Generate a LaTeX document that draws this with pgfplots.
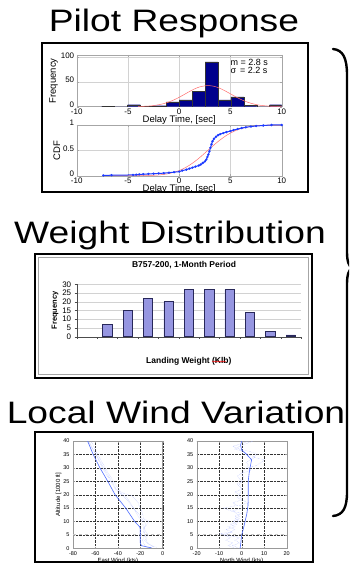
\documentclass[border=0pt]{standalone}
\usepackage{fontspec}
\setmainfont{Liberation Sans}
\usepackage{graphicx}
\usepackage{pgfplots}
\pgfplotsset{compat=1.18}
\usetikzlibrary{decorations.pathmorphing}

\definecolor{histnavy}{RGB}{0,0,140}
\definecolor{fitred}{RGB}{255,110,110}
\definecolor{cdfblue}{RGB}{30,60,255}
\definecolor{excelbar}{RGB}{150,150,225}
\definecolor{excelbarline}{RGB}{40,40,90}
\definecolor{windblue}{RGB}{80,110,255}
\definecolor{windlight}{RGB}{165,180,255}

\newcommand\bigtitle[1]{\fontsize{31}{34}\selectfont\scalebox{1.2}[1]{#1}}

\pgfplotsset{
  matlab/.style={
    scale only axis, anchor=south west,
    tick align=inside, major tick length=2pt,
    tick label style={font=\fontsize{8}{9}\selectfont},
    label style={font=\fontsize{9.5}{10}\selectfont},
    /pgf/number format/assume math mode=true,
    axis line style={gray!70}, tick style={gray!70},
    grid=major, grid style={gray!35, line width=0.4pt},
    yticklabel style={yshift=2pt, xshift=1pt},
    xticklabel style={yshift=1.5pt},
  },
  wind/.style={
    scale only axis, anchor=south west,
    tick align=inside, major tick length=1.5pt,
    tick label style={font=\fontsize{5.5}{6}\selectfont},
    label style={font=\fontsize{6}{7}\selectfont},
    /pgf/number format/assume math mode=true,
    axis line style={gray!80}, tick style={gray!80},
    grid=major, grid style={black!80, densely dotted, line width=0.3pt},
    ymin=0, ymax=40, ytick={0,5,...,40},
    xlabel style={yshift=4pt}, ylabel style={yshift=-5pt},
  },
}

\begin{document}
\begin{tikzpicture}
\path (0pt,0pt) rectangle (349pt,-564pt);

% ---------------- section titles
\node[anchor=base, inner sep=0pt] at (174pt,-31.7pt) {\bigtitle{Pilot Response}};
\node[anchor=base, inner sep=0pt] at (170pt,-243.3pt) {\bigtitle{Weight Distribution}};
\node[anchor=base, inner sep=0pt] at (176pt,-423.3pt) {\bigtitle{Local Wind Variation}};

% ---------------- pilot response panel
\fill[white] (41.7pt,-43.3pt) rectangle (308pt,-191.7pt);
\begin{scope}
\clip (41.7pt,-43.3pt) rectangle (308pt,-191.7pt);
\begin{axis}[matlab, at={(76.7pt,-106.7pt)}, width=205pt, height=51.7pt,
  xmin=-10, xmax=10, ymin=0, ymax=105,
  xtick={-10,-5,0,5,10}, ytick={0,50,100},
  xlabel={Delay Time, [sec]}, ylabel={Frequency},
  xlabel style={yshift=6pt}, ylabel style={yshift=-4pt}]
  \addplot[ybar interval, fill=histnavy, draw=black!80, line width=0.3pt] coordinates {
    (-7.56,1) (-6.30,0) (-5.04,4) (-3.78,1) (-2.52,2) (-1.26,10) (0,14)
    (1.26,31) (2.52,91) (3.78,14) (5.04,20) (6.30,3) (7.56,0) (8.82,4) (10.08,4)};
  \addplot[fitred, line width=0.5pt, smooth] coordinates {
    (-4,0.36) (-3,1.33) (-2.5,2.36) (-2,3.98) (-1.5,6.37) (-1,9.67) (-0.5,13.96)
    (0,19.1) (0.5,24.9) (1,30.8) (1.5,36.1) (2,40.2) (2.8,43) (3.5,40.9) (4,37.1)
    (4.5,31.9) (5,26.1) (5.5,20.25) (6,14.9) (6.5,10.45) (7,6.95) (7.5,4.39)
    (8,2.63) (9,0.81) (10,0.2)};
  \node[anchor=base west, inner sep=0pt, font=\fontsize{9}{10}\selectfont] at (axis cs:5,84) {m = 2.8 s};
  \node[anchor=base west, inner sep=0pt, font=\fontsize{9}{10}\selectfont] at (axis cs:5,67) {σ \,= 2.2 s};
\end{axis}
\begin{axis}[matlab, at={(76.7pt,-175.7pt)}, width=205pt, height=50.7pt,
  xmin=-10, xmax=10, ymin=0, ymax=1,
  xtick={-10,-5,0,5,10}, ytick={0,0.5,1},
  xlabel={Delay Time, [sec]}, ylabel={CDF},
  xlabel style={yshift=6pt}, ylabel style={yshift=-4pt}]
  \addplot[fitred, line width=0.5pt, smooth] coordinates {
    (-7.4,0) (-5,0) (-4,0.001) (-3,0.004) (-2,0.0146) (-1,0.042) (0,0.1015)
    (0.5,0.148) (1,0.2067) (1.5,0.277) (2,0.358) (2.5,0.446) (3,0.536)
    (3.5,0.625) (4,0.707) (4.5,0.780) (5,0.841) (5.5,0.890) (6,0.927)
    (7,0.972) (8,0.991) (9,0.9976) (10,0.9994)};
  \addplot[cdfblue, line width=1pt, mark=*, mark size=0.6pt] coordinates {
    (-7.4,0.005) (-6.6,0.01) (-4.5,0.015) (-4.2,0.02) (-3.9,0.025) (-3.5,0.03)
    (-3.0,0.035) (-2.5,0.04) (-2.0,0.045) (-1.5,0.05) (-1.0,0.06) (-0.5,0.07)
    (0,0.08) (0.3,0.1) (0.7,0.12) (1.0,0.14) (1.3,0.16) (1.6,0.18) (1.9,0.2)
    (2.1,0.22) (2.3,0.25) (2.5,0.28) (2.65,0.32) (2.75,0.37) (2.85,0.42)
    (2.95,0.48) (3.05,0.55) (3.15,0.62) (3.25,0.68) (3.4,0.73) (3.6,0.77)
    (3.8,0.80) (4.0,0.82) (4.3,0.84) (4.6,0.86) (5.0,0.88) (5.3,0.90)
    (5.7,0.92) (6.1,0.94) (6.5,0.955) (7.0,0.97) (7.5,0.98) (8.2,0.99)
    (9.0,1) (10,1)};
\end{axis}
\end{scope}
\draw[line width=2pt] (41.7pt,-43.3pt) rectangle (308pt,-191.7pt);

% ---------------- landing weight panel
\fill[white] (35pt,-254pt) rectangle (312pt,-378pt);
\draw[gray!70, line width=0.8pt] (38.5pt,-257.5pt) rectangle (308.5pt,-374.5pt);
\node[font=\bfseries\fontsize{8.5}{9}\selectfont] at (184pt,-265pt) {B757-200, 1-Month Period};
\begin{axis}[at={(76.7pt,-336.7pt)}, anchor=south west, scale only axis,
  width=224.3pt, height=52.4pt,
  xmin=-0.5, xmax=10.5, ymin=0, ymax=30,
  ytick={0,5,...,30}, xtick={-0.5,0.5,...,10.5}, xticklabels={},
  axis x line*=bottom, axis y line*=left,
  axis line style={black!70}, tick style={black!70},
  tick align=outside, major tick length=2pt,
  ymajorgrids, grid style={gray!35, line width=0.4pt},
  tick label style={font=\fontsize{8}{8}\selectfont},
  /pgf/number format/assume math mode=true,
  ylabel={Frequency}, ylabel style={font=\bfseries\fontsize{7.5}{8}\selectfont, yshift=-3pt},
  xlabel={Landing Weight (Klb)}, xlabel style={font=\bfseries\fontsize{8.5}{9}\selectfont, yshift=-8pt}]
  \addplot[ybar, bar width=9.3pt, fill=excelbar, draw=excelbarline, line width=0.6pt] coordinates {
    (1,7) (2,15) (3,22) (4,20) (5,27) (6,27) (7,27) (8,14) (9,3) (10,1)};
\end{axis}
\draw[red, line width=0.4pt, decorate, decoration={snake, amplitude=0.5pt, segment length=2pt}] (212pt,-361.5pt) -- (226pt,-361.5pt);
\draw[line width=2pt] (35pt,-254pt) rectangle (312pt,-378pt);

% ---------------- wind profile panel
\fill[white] (35pt,-431.7pt) rectangle (313.3pt,-561.5pt);
\begin{scope}
\clip (35pt,-431.7pt) rectangle (313.3pt,-561.5pt);
\begin{axis}[wind, at={(73pt,-548.3pt)}, width=89.7pt, height=107.3pt,
  xmin=-80, xmax=0, xtick={-80,-60,...,0},
  xlabel={East Wind (kts)}, ylabel={Altitude [1000 ft]}]
  \addplot[gray!45, line width=0.8pt, dashed] coordinates {(-80,5) (0,5)};
  \addplot[windlight, line width=0.4pt, densely dotted] coordinates {
    (-67,40) (-60,35.5) (-55,31) (-48,26) (-42,22) (-35,20.5) (-27,19.5) (-22,17)
    (-20,15) (-18,13) (-17,11) (-12,10) (-16,8) (-17,6) (-15,4) (-14,2) (-10,1) (-5,0.3)};
  \addplot[windlight, line width=0.4pt, densely dotted] coordinates {
    (-66,40) (-61,36) (-54,31) (-47,26) (-40,21) (-32,19) (-26,15) (-22,12)
    (-18,10) (-17,7) (-16,5) (-18,3) (-16,1) (-12,0)};
  \addplot[windlight, line width=0.4pt, densely dotted] coordinates {
    (-64,40) (-58,35) (-50,29) (-44,25) (-36,20) (-30,17) (-24,14) (-20,12)
    (-15,9) (-17,7.5) (-13,5) (-16,3) (-12,1.5) (-8,0.5)};
  \addplot[windblue, line width=0.6pt] coordinates {
    (-67,40) (-62,35) (-56,30) (-49,25) (-42.5,20) (-33,15) (-25,10) (-20.5,8)
    (-20,7) (-20,2) (-19,1) (-14,0.5) (-10,0.2)};
\end{axis}
\begin{axis}[wind, at={(196.7pt,-548.3pt)}, width=90pt, height=107.3pt,
  xmin=-20, xmax=20, xtick={-20,-10,...,20},
  xlabel={North Wind (kts)}]
  \addplot[gray!45, line width=0.8pt, dashed] coordinates {(-20,5) (20,5)};
  \addplot[windlight, line width=0.4pt, densely dotted] coordinates {
    (-3,0) (-6,1) (-4,2) (-7,3) (-5,4) (-8,5) (-5,6) (-3,7) (-6,8) (-2,9) (-4,10)
    (-1,11) (-3,12) (0,13) (-5,14) (-8,15) (-2,16) (-4,17) (0,18) (-2,19) (-1,20)
    (-3,21) (0,22) (-1,23) (-2,24) (0,25) (-1,26) (-2,27) (0,28) (1,29) (2,30)
    (3,31) (2,32) (4,33) (6,34) (3,35) (1,36) (-3,37) (-1,38) (2,39) (5,40)};
  \addplot[windlight, line width=0.4pt, densely dotted] coordinates {
    (-1,0) (-4,1) (-1,2) (-3,3) (-1,4) (-10,5.5) (-4,6) (-7,7) (-3,8) (-5,9)
    (-1,10) (-3,11) (-1,12) (-4,14) (1,15) (-1,16) (3,17) (0,18) (-1,20) (0,22)
    (-1,24) (1,26) (0,28) (4,29) (3,30) (7,31) (10,33) (5,34) (7,35) (4,36)
    (-1,37) (-4,38) (0,39) (3,40)};
  \addplot[windblue, line width=0.6pt] coordinates {
    (-0.7,0) (-0.4,2) (0,5) (0.8,7.5) (1.5,10) (2.3,13) (2.8,16) (2.9,20)
    (2.9,25) (3.3,28) (3.7,30) (4.4,33) (2.2,35) (0,36.6) (-0.5,38.5) (0,40)};
\end{axis}
\end{scope}
\draw[line width=2pt] (35pt,-431.7pt) rectangle (313.3pt,-561.5pt);

% ---------------- grouping brace
\begin{scope}
\clip (320pt,-40pt) rectangle (349pt,-530pt);
\draw[line width=2.4pt, line cap=round]
  (333pt,-49pt) .. controls (343pt,-50pt) and (347pt,-58pt) .. (347pt,-75pt)
  -- (347pt,-252pt) .. controls (347pt,-262pt) and (349pt,-266pt) .. (352pt,-268pt)
  .. controls (349pt,-270pt) and (347pt,-274pt) .. (347pt,-284pt)
  -- (347pt,-492pt) .. controls (347pt,-508pt) and (343pt,-515pt) .. (333pt,-516pt);
\end{scope}
\end{tikzpicture}
\end{document}
